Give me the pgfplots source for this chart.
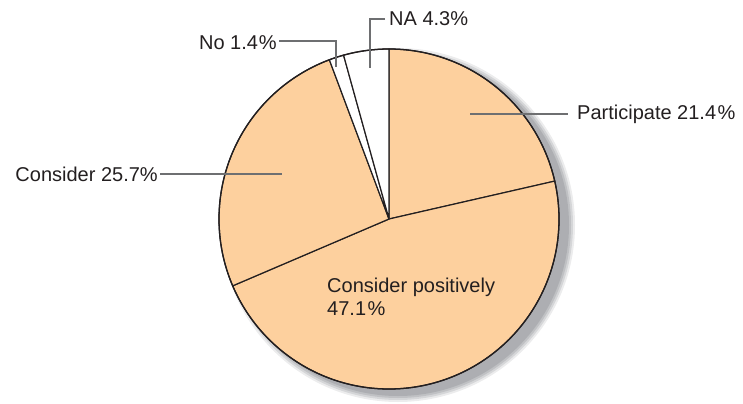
\documentclass[border=0pt]{standalone}
\usepackage{pgfplots}
\pgfplotsset{compat=1.18}
\usepackage{fontspec}
\setmainfont{Liberation Sans}
\definecolor{peach}{RGB}{253,208,158}
\definecolor{edge}{RGB}{35,31,32}
\definecolor{lead}{RGB}{110,111,113}
\definecolor{shad}{RGB}{160,162,166}
\tikzset{lbl/.style={font=\fontsize{20bp}{24bp}\selectfont, text=edge, inner sep=0pt}}
\begin{document}
\begin{tikzpicture}
\begin{axis}[
  scale only axis, width=743bp, height=401bp,
  xmin=0, xmax=743, ymin=0, ymax=401,
  hide axis, clip=false,
]
\pgfplotsextra{
  \path (axis cs:0,0) rectangle (axis cs:743,401);
  % shadow
  \foreach \r/\o in {177/0.2,175/0.3,173/0.4,171/0.6}{
    \fill[shad, opacity=\o] (axis cs:398,176) circle[radius=\r bp];
  }
  \fill[white] (axis cs:389,182) circle[radius=170bp];
  \gdef\angA{90}
  \foreach \v/\c in {21.4/peach, 47.1/peach, 25.7/peach, 1.4/white, 4.3/white}{
    \pgfmathsetmacro\angB{\angA-3.603604*\v}
    \filldraw[fill=\c, draw=edge, line width=1.2bp, line join=round]
      (axis cs:389,182) -- ++(\angA:170bp) arc[start angle=\angA, end angle=\angB, radius=170bp] -- cycle;
    \global\let\angA\angB
  }
  \draw[edge, line width=1.3bp] (axis cs:389,182) circle[radius=170bp];
  % leader lines
  \draw[lead, line width=1.5bp] (axis cs:470,287) -- (axis cs:568,287);
  \draw[lead, line width=1.5bp] (axis cs:160,227) -- (axis cs:282,227);
  \draw[lead, line width=1.5bp] (axis cs:279,360) -- (axis cs:336,360) -- (axis cs:336,334);
  \draw[lead, line width=1.5bp] (axis cs:385,382) -- (axis cs:370,382) -- (axis cs:370,333);
}
\node[lbl, anchor=base west] at (axis cs:577,281) {Participate 21.4\kern0.08em\%};
\node[lbl, anchor=base east] at (axis cs:158,219.5) {Consider 25.7\%};
\node[lbl, anchor=base east] at (axis cs:277,351) {No 1.4\kern0.05em\%};
\node[lbl, anchor=base west] at (axis cs:389,375) {NA 4.3\%};
\node[lbl, anchor=base west] at (axis cs:327,108.7) {Consider positively};
\node[lbl, anchor=base west] at (axis cs:327,86) {47.1\kern0.08em\%};
\end{axis}
\end{tikzpicture}
\end{document}
